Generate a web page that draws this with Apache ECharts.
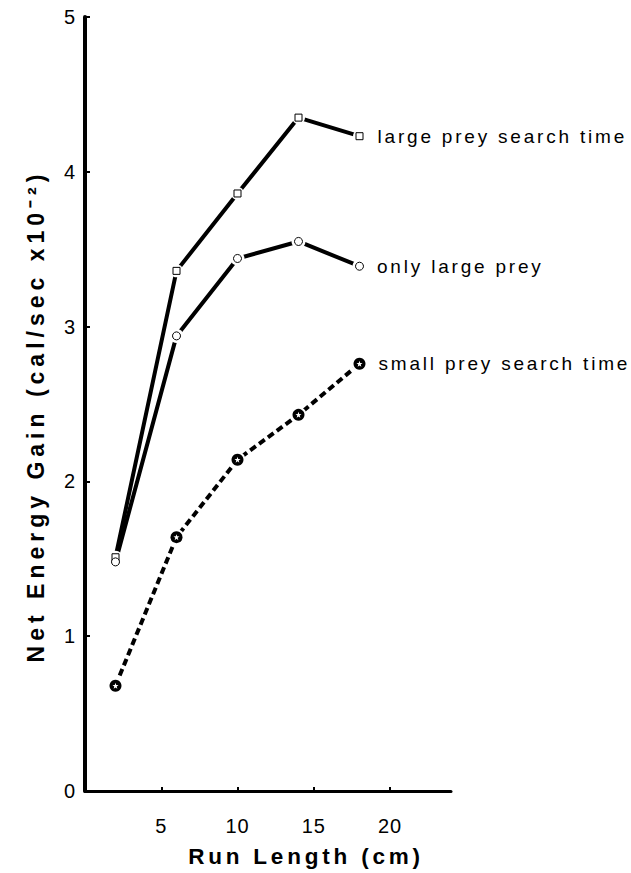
<!DOCTYPE html>
<html>
<head>
<meta charset="utf-8">
<script src="https://cdn.jsdelivr.net/npm/echarts@6/dist/echarts.min.js"></script>
<style>
  html, body { margin: 0; padding: 0; background: #fff; }
  #chart { width: 631px; height: 873px; }
  /* old typeset look: widely tracked lettering */
  #chart text { letter-spacing: 1px; }
  #chart text[style*="19px"] { letter-spacing: 2.8px; }
  #chart text[style*="23px"] { letter-spacing: 5px; }
  #chart text[style*="22.5px"] { letter-spacing: 3.8px; }
</style>
</head>
<body>
<div id="chart"></div>
<script>
// Run length (cm) at which each foraging scenario was evaluated
const runLength = [2, 6, 10, 14, 18];
// Net energy gain, cal/sec x10^-2
const largePreySearch = [1.51, 3.36, 3.86, 4.35, 4.23];
const onlyLargePrey = [1.48, 2.94, 3.44, 3.55, 3.39];
const smallPreySearch = [0.68, 1.64, 2.14, 2.43, 2.76];
const seriesNames = ['large prey search time', 'only large prey', 'small prey search time'];
const xTickValues = [5, 10, 15, 20];
const yTickValues = [0, 1, 2, 3, 4, 5];

const FONT = '"Liberation Sans", Arial, Helvetica, sans-serif';
const STAR = 'path://M0,-10L2.35,-3.24L9.51,-3.09L3.8,1.24L5.88,8.09L0,4L-5.88,8.09L-3.8,1.24L-9.51,-3.09L-2.35,-3.24Z';

function pairs(ys) { return runLength.map((x, i) => [x, ys[i]]); }

// Last point carries the series name as its label
function labelled(ys, name, gap) {
  return pairs(ys).map((p, i) => i === ys.length - 1
    ? { value: p, label: { show: true, position: 'right', distance: gap, formatter: name,
        color: '#000', fontFamily: FONT, fontSize: 19 } }
    : p);
}

function lineSeries(ys, dashed) {
  return {
    type: 'line', data: pairs(ys), showSymbol: false, symbol: 'none', z: 2,
    lineStyle: { color: '#000', width: 4, opacity: 1, type: dashed ? [7, 4] : 'solid', cap: 'butt' },
    silent: true
  };
}

// White halo leaves a small gap between each line and its markers
function haloSeries(ys, size) {
  return {
    type: 'scatter', data: pairs(ys), symbol: 'circle', symbolSize: size, z: 3,
    itemStyle: { color: '#fff', opacity: 1, borderWidth: 0 }, silent: true
  };
}

const chart = echarts.init(document.getElementById('chart'), null, { renderer: 'svg' });
chart.setOption({
  backgroundColor: '#fff',
  animation: false,
  grid: { left: 85, right: 180, top: 17, bottom: 78, containLabel: false },
  xAxis: {
    type: 'value', min: 0, max: 24, interval: 5,
    name: 'Run Length (cm)', nameLocation: 'middle', nameGap: 54,
    nameTextStyle: { color: '#000', fontFamily: FONT, fontSize: 22.5, fontWeight: 'bold', padding: [0, 0, 0, 76] },
    axisLine: { show: true, lineStyle: { color: '#000', width: 3 } },
    axisTick: { show: true, inside: true, length: 4, customValues: xTickValues, lineStyle: { color: '#000', width: 2 } },
    axisLabel: { show: true, customValues: xTickValues, margin: 25, color: '#000', fontFamily: FONT, fontSize: 20 },
    splitLine: { show: false }
  },
  yAxis: {
    type: 'value', min: 0, max: 5, interval: 1,
    name: 'Net Energy Gain (cal/sec x10\u207B\u00B2)', nameLocation: 'middle', nameGap: 38, nameRotate: 90,
    nameTextStyle: { color: '#000', fontFamily: FONT, fontSize: 23, fontWeight: 'bold', padding: [0, 24, 0, 0] },
    axisLine: { show: true, lineStyle: { color: '#000', width: 4 } },
    axisTick: { show: true, inside: true, length: 5, customValues: yTickValues.slice(1), lineStyle: { color: '#000', width: 2 } },
    axisLabel: { show: true, customValues: yTickValues, margin: 9, color: '#000', fontFamily: FONT, fontSize: 20 },
    splitLine: { show: false }
  },
  series: [
    lineSeries(largePreySearch, false),
    lineSeries(onlyLargePrey, false),
    lineSeries(smallPreySearch, true),
    haloSeries(largePreySearch, 13),
    haloSeries(onlyLargePrey, 14),
    haloSeries(smallPreySearch, 16),
    {
      name: seriesNames[0], type: 'scatter', data: labelled(largePreySearch, seriesNames[0], 14),
      symbol: 'rect', symbolSize: 7, z: 4,
      itemStyle: { color: '#fff', opacity: 1, borderColor: '#000', borderWidth: 1 }
    },
    {
      name: seriesNames[1], type: 'scatter', data: labelled(onlyLargePrey, seriesNames[1], 13),
      symbol: 'circle', symbolSize: 8, z: 4,
      itemStyle: { color: '#fff', opacity: 1, borderColor: '#000', borderWidth: 1 }
    },
    {
      name: seriesNames[2], type: 'scatter', data: labelled(smallPreySearch, seriesNames[2], 13),
      symbol: 'circle', symbolSize: 12, z: 4,
      itemStyle: { color: '#000', opacity: 1 }
    },
    {
      type: 'scatter', data: pairs(smallPreySearch), symbol: STAR, symbolSize: 6, z: 5,
      itemStyle: { color: '#fff', opacity: 1 }, silent: true
    }
  ]
});
</script>
</body>
</html>
